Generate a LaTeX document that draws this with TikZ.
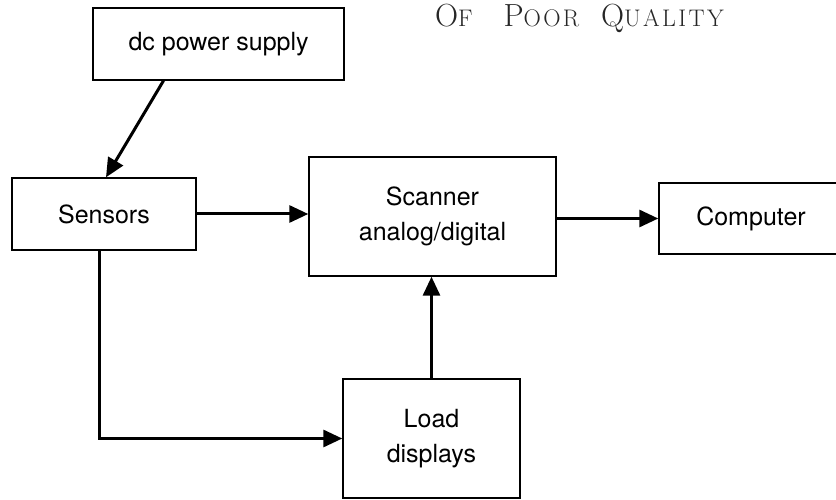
\documentclass[tikz,border=0pt]{standalone}
\usepackage{fontspec}
\setmainfont{TeX Gyre Heros}
\newfontfamily\stampfont[LetterSpace=10]{Latin Modern Roman}
\newcommand\stampsc[1]{{\fontsize{24}{24}\selectfont #1}}
\usepackage{tikz}
\usetikzlibrary{positioning,arrows.meta,calc}
\begin{document}
\begin{tikzpicture}[
  x=1pt, y=-1pt,
  font=\fontsize{25}{35}\selectfont,
  blk/.style={draw=black, line width=1.4pt, align=center, inner sep=0pt},
  arr/.style={-{Triangle[length=19pt, width=17pt]}, line width=3pt, black},
  stamp/.style={font=\stampfont\fontsize{32}{32}\selectfont, black!85, inner sep=0pt}
]
\useasboundingbox (0,0) rectangle (836,500);
% ----- blocks -----
\node[blk, minimum width=251pt, minimum height=72pt] (psu) at (218.5,44) {dc power supply};
\node[blk, minimum width=184pt, minimum height=72pt] (sens) at (104,214) {Sensors};
\node[blk, minimum width=247pt, minimum height=119pt] (scan) at (432.5,216.5) {Scanner\\analog/digital};
\node[blk, minimum width=177pt, minimum height=119pt] (load) at (431.5,438.5) {Load\\displays};
\node[blk, minimum width=184pt, minimum height=71pt] (comp) at (751,218.5) {Computer};
% ----- connectors -----
\draw[arr] ([xshift=-55pt]psu.south) -- ([xshift=2pt]sens.north);
\draw[arr] (sens.east) -- (sens.east -| scan.west);
\draw[arr] (scan.east |- comp.west) -- (comp.west);
\draw[arr] (load.north) -- (load.north |- scan.south);
\draw[arr] ([xshift=-5pt]sens.south) |- (load.west);
% ----- scan stamp, top right -----
\node[stamp, anchor=base east] (stampnote) at (724,27)
  {O\stampsc{F}\hspace{18pt} P\stampsc{OOR}\hspace{9pt} Q\stampsc{UALITY}};
\end{tikzpicture}
\end{document}
